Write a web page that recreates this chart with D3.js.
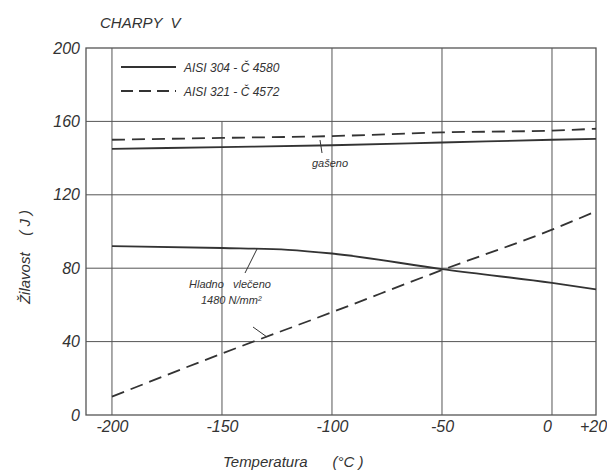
<!DOCTYPE html>
<html><head><meta charset="utf-8">
<script src="https://cdn.jsdelivr.net/npm/d3@7/dist/d3.min.js"></script>
<style>body{margin:0;background:#fff}text{font-family:"Liberation Sans",Arial,sans-serif;font-style:italic;fill:#333;white-space:pre}</style>
</head><body><svg id="c" width="607" height="471"></svg>
<script>
const xTicks = [-200, -150, -100, -50, 0, 20];
const xTickLabels = ["-200", "-150", "-100", "-50", "0", "+20"];
const yTicks = [0, 40, 80, 120, 160, 200];
const temps = [-200, -150, -100, -50, 0, 20];
const aisi304Quenched = [145, 146, 147, 148.5, 150, 150.5];
const aisi321Quenched = [150, 151, 152, 154, 155, 156];
const tempsCold304 = [-200, -150, -120, -100, -50, 0, 20];
const aisi304Cold = [92, 91, 90, 88, 79.5, 72, 68.5];
const aisi321Cold = [10, 33.5, 56, 79, 101, 111];

const svg = d3.select("#c");
const x = d3.scaleLinear().domain([-211.8, 20]).range([86, 596]);
const y = d3.scaleLinear().domain([0, 200]).range([415, 48]);
const ink = "#333";

// grid
const g = svg.append("g").attr("stroke", "#555").attr("stroke-width", 1);
yTicks.filter(v => v > 0 && v < 200).forEach(v => {
  g.append("line").attr("x1", x(-211.8)).attr("x2", x(20)).attr("y1", y(v)).attr("y2", y(v));
});
xTicks.filter(v => v < 20).forEach(v => {
  g.append("line").attr("x1", x(v)).attr("x2", x(v)).attr("y1", y(0)).attr("y2", v === -150 ? y(160) : y(200));
});
g.append("rect").attr("x", x(-211.8)).attr("y", y(200)).attr("width", x(20) - x(-211.8)).attr("height", y(0) - y(200)).attr("fill", "none").attr("stroke-width", 1.3);

const ax = svg.append("g").attr("transform", `translate(0,${y(0)})`).call(
  d3.axisBottom(x).tickValues(xTicks).tickFormat((d, i) => xTickLabels[i]).tickSize(0).tickPadding(6));
ax.select(".domain").remove();
ax.selectAll("text").attr("font-size", 16).attr("font-family", "Liberation Sans").attr("fill", ink).style("font-style", "italic");
ax.selectAll(".tick").filter(d => d === 0).select("text").attr("dx", -5);
ax.selectAll(".tick").filter(d => d === 20).select("text").attr("dx", -3);

const ay = svg.append("g").attr("transform", `translate(${x(-211.8)},0)`).call(
  d3.axisLeft(y).tickValues(yTicks).tickSize(0).tickPadding(6));
ay.select(".domain").remove();
ay.selectAll("text").attr("font-size", 16).attr("font-family", "Liberation Sans").attr("fill", ink).style("font-style", "italic");

const line = d3.line().x(d => x(d[0])).y(d => y(d[1])).curve(d3.curveMonotoneX);
function draw(xs, ys, dashed) {
  svg.append("path").datum(xs.map((t, i) => [t, ys[i]])).attr("d", line)
    .attr("fill", "none").attr("stroke", ink).attr("stroke-width", 1.8)
    .attr("stroke-dasharray", dashed ? "13,7" : null);
}
draw(temps, aisi304Quenched, false);
draw(temps, aisi321Quenched, true);
draw(tempsCold304, aisi304Cold, false);
draw(temps, aisi321Cold, true);

// legend
svg.append("line").attr("x1", 121).attr("x2", 176).attr("y1", 67).attr("y2", 67).attr("stroke", ink).attr("stroke-width", 1.8);
svg.append("line").attr("x1", 121).attr("x2", 176).attr("y1", 91).attr("y2", 91).attr("stroke", ink).attr("stroke-width", 1.8).attr("stroke-dasharray", "12,6");
svg.append("text").attr("x", 184).attr("y", 72).attr("font-size", 12).text("AISI 304 - Č 4580");
svg.append("text").attr("x", 184).attr("y", 96).attr("font-size", 12).text("AISI 321 - Č 4572");

svg.append("text").attr("x", 100).attr("y", 28).attr("font-size", 15).text("CHARPY  V");

// annotations
svg.append("line").attr("x1", 320).attr("x2", 322).attr("y1", 140).attr("y2", 153).attr("stroke", ink).attr("stroke-width", 1);
svg.append("text").attr("x", 312).attr("y", 167).attr("font-size", 11).text("gašeno");
svg.append("line").attr("x1", 257).attr("x2", 245).attr("y1", 249).attr("y2", 273).attr("stroke", ink).attr("stroke-width", 1);
svg.append("line").attr("x1", 253).attr("x2", 267).attr("y1", 327).attr("y2", 337).attr("stroke", ink).attr("stroke-width", 1);
svg.append("text").attr("x", 189).attr("y", 288).attr("font-size", 11).text("Hladno   vlečeno");
svg.append("text").attr("x", 201).attr("y", 304).attr("font-size", 11).text("1480 N/mm²");

svg.append("text").attr("x", 223).attr("y", 467).attr("font-size", 15).text("Temperatura      (°C )");
svg.append("text").attr("transform", "translate(30,257) rotate(-90)").attr("text-anchor", "middle").attr("font-size", 15).text("Žilavost    ( J )");
</script></body></html>
